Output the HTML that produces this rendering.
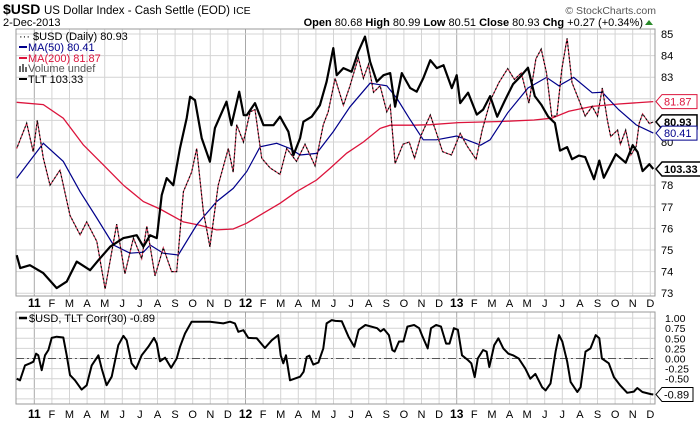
<!DOCTYPE html>
<html><head><meta charset="utf-8">
<style>
html,body{margin:0;padding:0;background:#fff;}
body{width:700px;height:421px;overflow:hidden;font-family:"Liberation Sans",Arial,sans-serif;}
svg text{font-family:"Liberation Sans",Arial,sans-serif;}
</style></head>
<body>
<svg id="chart" width="700" height="421" viewBox="0 0 700 421" xmlns="http://www.w3.org/2000/svg">
  <g>
    <text x="3" y="14" font-size="14" font-weight="bold" fill="#000">$USD</text>
    <text x="44" y="14" font-size="11.5" fill="#000">US Dollar Index - Cash Settle (EOD) <tspan font-size="10.5">ICE</tspan></text>
    <text x="3" y="26" font-size="11" fill="#000">2-Dec-2013</text>
    <text x="656" y="14" font-size="10.5" fill="#555" text-anchor="end">© StockCharts.com</text>
    <text x="643" y="26" font-size="11" fill="#000" text-anchor="end"><tspan font-weight="bold">Open</tspan> 80.68  <tspan font-weight="bold">High</tspan> 80.99  <tspan font-weight="bold">Low</tspan> 80.51  <tspan font-weight="bold">Close</tspan> 80.93  <tspan font-weight="bold">Chg</tspan> +0.27 (+0.34%)</text>
    <polygon points="645,25 653,25 649,20" fill="#2a8a2a"/>
  </g>
  <g id="grid"></g>
  <g id="series"></g>
  <g font-size="11">
    <text x="19" y="40" fill="#000">··· $USD (Daily) 80.93</text>
    <line x1="19" y1="47" x2="27" y2="47" stroke="#00008b" stroke-width="2"/>
    <text x="28" y="51" fill="#00008b">MA(50) 80.41</text>
    <line x1="19" y1="58" x2="27" y2="58" stroke="#dc143c" stroke-width="2"/>
    <text x="28" y="62" fill="#dc143c">MA(200) 81.87</text>
    <g fill="#666"><rect x="19" y="66" width="2" height="6"/><rect x="22" y="64" width="2" height="8"/><rect x="25" y="67" width="2" height="5"/></g>
    <text x="28" y="72" fill="#555">Volume undef</text>
    <line x1="19" y1="79" x2="27" y2="79" stroke="#000" stroke-width="2"/>
    <text x="28" y="83" fill="#000">TLT  103.33</text>
  </g>
  <g font-size="11">
    <line x1="19" y1="318" x2="27" y2="318" stroke="#000" stroke-width="2.5"/>
    <text x="29" y="322" fill="#000">$USD, TLT Corr(30) -0.89</text>
  </g>
</svg>
<script>
// ---- data (month index t: 0 = Jan 2011) ----
const usdT = [-1.0,-0.43,-0.06,0.17,0.51,0.89,1.46,2.03,2.6,2.98,3.55,4.02,4.68,5.15,5.63,6.1,6.39,6.86,7.33,7.8,8.09,8.47,8.94,9.23,9.6,9.98,10.45,11.02,11.3,11.5,11.88,12.26,12.54,12.92,13.4,13.96,14.34,14.9,15.38,15.95,16.42,16.7,17.09,17.56,17.94,18.41,18.7,18.99,19.27,19.65,20.03,20.22,20.5,20.95,21.3,21.6,21.97,22.5,22.9,23.2,23.7,24.0,24.2,24.6,25.1,25.45,25.93,26.4,26.9,27.28,27.67,28.1,28.5,28.8,29.1,29.4,29.69,29.98,30.27,30.55,30.94,31.3,31.7,32.0,32.27,32.56,32.75,33.14,33.3,33.6,33.9,34.2,34.37,34.56,34.95,35.17];
const usdV = [79.7,80.87,79.55,81.0,79.26,78.0,78.7,76.6,75.7,76.3,75.4,73.2,76.2,73.9,75.55,74.6,76.1,73.8,75.1,74.0,74.0,77.7,78.6,79.7,76.8,75.15,78.0,79.7,78.6,80.8,80.0,81.4,81.5,79.25,78.8,78.5,79.7,79.1,79.9,78.9,80.8,81.4,82.95,81.7,82.6,83.9,82.95,83.6,82.3,82.6,81.4,81.7,79.0,79.9,80.0,79.25,80.3,81.25,80.3,79.55,79.4,80.0,80.4,79.8,79.2,80.55,81.96,82.75,83.4,82.9,83.2,81.8,83.85,84.3,83.2,81.2,81.2,83.4,84.8,82.75,81.96,81.2,81.65,81.2,82.5,81.0,80.25,80.55,79.9,80.55,79.4,79.8,80.87,81.3,80.85,80.93];
const ma50T = [-1.0,0.51,1.65,2.6,3.55,4.5,5.44,6.2,6.58,7.33,8.18,9.23,10.36,11.3,12.07,12.83,13.77,14.53,15.1,16.04,16.99,17.94,19.08,20.03,20.6,21.3,22.1,22.85,24.0,25.36,25.9,26.9,28.05,29.1,29.8,30.65,31.7,32.27,33.2,34.2,35.17];
const ma50V = [78.32,79.94,79.1,77.7,76.48,75.23,74.85,74.9,75.23,74.85,74.77,76.16,77.24,77.85,78.63,79.78,79.94,79.7,79.4,79.47,80.48,81.63,82.72,82.6,82.02,81.1,80.1,80.1,80.28,79.85,80.1,81.35,82.5,82.99,82.6,82.99,82.28,82.3,81.5,80.79,80.41];
const ma200T = [-1.0,0.51,1.65,2.79,3.93,5.06,6.2,7.14,8.47,9.41,10.36,11.3,12.07,13.0,13.96,14.9,16.04,16.8,17.75,18.7,19.65,20.22,21.55,22.5,24.1,26.5,28.4,29.4,30.37,31.7,33.2,35.17];
const ma200V = [81.84,81.73,81.1,79.86,78.93,78.0,77.24,76.9,76.3,76.15,75.93,75.97,76.24,76.7,77.16,77.7,78.24,78.78,79.48,80.0,80.63,80.78,80.78,80.8,80.9,80.95,81.02,81.1,81.42,81.65,81.76,81.87];
const tltT = [-1.0,-0.8,-0.25,0.51,1.27,1.84,2.41,3.17,3.64,4.31,5.06,5.82,6.2,6.58,6.96,7.24,7.52,7.9,8.28,8.66,8.85,9.13,9.51,9.98,10.26,10.92,11.2,11.64,11.9,12.07,12.54,13.02,13.59,13.96,14.44,14.72,15.1,15.29,15.76,16.23,16.61,16.99,17.18,17.56,18.03,18.41,18.79,19.08,19.46,19.84,20.22,20.5,20.88,21.36,21.73,22.1,22.5,22.87,23.25,23.72,24.0,24.2,24.65,25.14,25.5,25.9,26.3,26.76,27.2,27.67,28.05,28.44,28.8,29.2,29.58,29.87,30.27,30.55,30.94,31.3,31.8,32.1,32.36,32.75,33.04,33.6,34.0,34.28,34.56,34.95,35.17];
const tltV = [86.1,83.5,84.1,82.5,79.5,80.8,84.8,83.1,85.1,87.8,89.5,90.1,87.8,90.1,89.5,98.1,101.5,100.1,107.5,113.5,117.8,117.1,109.5,104.8,111.5,116.8,112.1,118.8,114.1,114.1,116.5,112.1,112.1,113.8,110.8,106.1,109.5,112.8,113.8,116.1,120.8,127.5,122.1,123.5,122.8,126.8,129.8,124.8,120.8,122.1,122.5,115.8,122.5,119.5,118.8,121.5,125.1,123.5,124.1,119.5,122.1,116.5,118.6,114.2,115.2,117.9,113.8,117.2,120.3,122.0,123.6,117.9,116.2,113.8,112.5,107.0,107.7,105.3,106.0,105.7,101.3,105.0,101.6,104.3,106.3,104.6,108.1,106.7,102.9,104.3,103.33];
const corrT = [-1.0,-0.81,-0.53,-0.24,-0.05,0.1,0.23,0.42,0.61,0.8,0.99,1.27,1.65,1.84,2.03,2.31,2.69,2.98,3.26,3.64,3.83,4.11,4.4,4.77,5.06,5.25,5.53,5.78,6.1,6.48,6.8,6.96,7.14,7.43,7.77,8.09,8.28,8.56,8.94,9.98,10.74,11.12,11.4,11.59,11.88,12.16,12.64,13.1,13.49,13.86,14.0,14.15,14.3,14.53,15.1,15.3,15.48,15.63,15.85,16.14,16.42,16.61,16.9,17.1,17.47,17.85,18.18,18.43,18.81,19.48,19.67,19.86,20.15,20.34,20.47,20.72,20.97,21.2,21.58,21.87,22.06,22.35,22.54,22.83,23.11,23.4,23.59,23.84,24.07,24.3,24.64,24.83,25.02,25.2,25.5,25.7,25.85,26.13,26.37,26.65,26.94,27.2,27.52,27.9,28.18,28.47,28.85,29.05,29.33,29.62,29.81,30.0,30.28,30.47,30.85,31.04,31.32,31.6,31.9,32.1,32.25,32.64,32.93,33.3,33.69,34.07,34.26,34.55,35.03,35.17];
const corrV = [-0.5,-0.54,-0.17,-0.12,-0.08,0.12,0.08,-0.29,0.08,0.21,0.51,0.54,0.52,0.08,-0.41,-0.54,-0.77,-0.66,-0.17,0.08,-0.25,-0.66,-0.45,0.33,0.56,0.45,-0.12,-0.26,0.08,0.29,0.51,0.37,-0.07,0.02,-0.23,0.0,0.29,0.62,0.91,0.91,0.87,0.91,0.87,0.66,0.7,0.51,0.5,0.26,0.45,0.58,0.08,-0.12,0.08,-0.54,-0.45,-0.33,0.04,0.07,-0.15,-0.1,0.25,0.87,0.95,0.93,0.92,0.54,0.29,0.71,0.83,0.75,0.67,0.73,0.58,0.21,0.17,0.42,0.42,0.79,0.83,0.75,0.54,0.25,0.75,0.83,0.79,0.37,0.37,0.75,0.71,0.08,-0.04,-0.12,-0.46,0.0,0.21,0.17,-0.21,0.33,0.5,0.25,0.12,0.08,0.0,-0.25,-0.5,-0.38,-0.71,-0.79,-0.62,0.17,0.58,0.42,-0.08,-0.58,-0.83,-0.71,0.17,0.25,0.58,0.5,0.0,-0.12,-0.46,-0.67,-0.85,-0.82,-0.73,-0.83,-0.88,-0.89];
const monthLabels = ["11","F","M","A","M","J","J","A","S","O","N","D","12","F","M","A","M","J","J","A","S","O","N","D","13","F","M","A","M","J","J","A","S","O","N","D"];
const priceTicks = [85,84,83,82,81,80,79,78,77,76,75,74,73];
const priceTickLabels = ["85","84","83","","","80","","78","77","76","75","74","73"];
const corrTicks = [1,0.75,0.5,0.25,0,-0.25,-0.5,-0.75,-1];
const corrTickLabels = ["1.00","0.75","0.50","0.25","0.00","-0.25","-0.50","",""];
const lastUsd = 80.93, lastMa50 = 80.41, lastMa200 = 81.87, lastTlt = 103.33, lastCorr = -0.89;

// ---- scales ----
const L = 16, R = 655, PT = 29, PB = 296, CT = 312, CB = 404;
function xOf(t){ return 34.3 + 17.6 * t; }
function yUsd(v){ return 34 + (85 - v) * 21.6; }
function yTlt(v){ return 169 - (v - 103.33) * 5; }
function yCorr(v){ return 358.5 - v * 40.4; }

const NS = "http://www.w3.org/2000/svg";
function mk(tag, attrs, parent){
  const el = document.createElementNS(NS, tag);
  for (const k in attrs) el.setAttribute(k, attrs[k]);
  parent.appendChild(el);
  return el;
}
const grid = document.getElementById('grid');
const series = document.getElementById('series');

let el;
el = mk('rect', {x:L, y:PT, width:R-L, height:PB-PT, fill:'#fff', stroke:'none'}, grid);


el = mk('rect', {x:L, y:CT, width:R-L, height:CB-CT, fill:'#fff', stroke:'none'}, grid);



monthLabels.forEach((m, i) => {
  const x = xOf(i);
  const yr = /\d/.test(m);
  let g = mk('line', {x1:x, y1:PT, x2:x, y2:PB, stroke: yr ? '#a8a8a8' : '#d4d4d4', 'stroke-width':1}, grid);
  
  
  g = mk('line', {x1:x, y1:CT, x2:x, y2:CB, stroke: yr ? '#a8a8a8' : '#d4d4d4', 'stroke-width':1}, grid);
  
  
  [307, 418].forEach(yy => {
    const tx = mk('text', {x:x, y:yy, 'font-size': yr ? 12 : 11, 'font-weight': yr ? 'bold' : 'normal', 'text-anchor':'middle', fill:'#000'}, grid);
    tx.textContent = m;
    
    
  });
});

priceTicks.forEach((v, i) => {
  const y = yUsd(v);
  const g = mk('line', {x1:L, y1:y, x2:R, y2:y, stroke:'#d4d4d4', 'stroke-width':1}, grid);
  
  
  if (priceTickLabels[i]) {
    const tx = mk('text', {x:661, y:y+4, 'font-size':11, fill:'#000'}, grid);
    tx.textContent = priceTickLabels[i];
    
    
  }
});
corrTicks.forEach((v, i) => {
  const y = yCorr(v);
  const g = mk('line', {x1:L, y1:y, x2:R, y2:y, stroke:'#d4d4d4', 'stroke-width':1}, grid);
  
  
  if (corrTickLabels[i]) {
    const tx = mk('text', {x:665, y:y+4, 'font-size':10.5, fill:'#000'}, grid);
    tx.textContent = corrTickLabels[i];
    
    
  }
});
el = mk('line', {x1:L, y1:yCorr(0), x2:R, y2:yCorr(0), stroke:'#555', 'stroke-width':1, 'stroke-dasharray':'8,3,2,3'}, grid);



el = mk('rect', {x:L, y:PT, width:R-L, height:PB-PT, fill:'none', stroke:'#999', 'stroke-width':1}, grid);


el = mk('rect', {x:L, y:CT, width:R-L, height:CB-CT, fill:'none', stroke:'#999', 'stroke-width':1}, grid);



function pathD(ts, vs, yf){
  return ts.map((t, i) => (i ? 'L' : 'M') + xOf(t).toFixed(1) + ',' + yf(vs[i]).toFixed(1)).join(' ');
}
el = mk('path', {d:pathD(ma200T, ma200V, yUsd), fill:'none', stroke:'#dc143c', 'stroke-width':1.3}, series);


el = mk('path', {d:pathD(ma50T, ma50V, yUsd), fill:'none', stroke:'#00008b', 'stroke-width':1.2}, series);


el = mk('path', {d:pathD(usdT, usdV, yUsd), fill:'none', stroke:'#d03050', 'stroke-width':1.2, 'stroke-dasharray':'2,2'}, series);


el = mk('path', {d:pathD(usdT, usdV, yUsd), fill:'none', stroke:'#000', 'stroke-width':1.2, 'stroke-dasharray':'2,2', 'stroke-dashoffset':2}, series);


el = mk('path', {d:pathD(tltT, tltV, yTlt), fill:'none', stroke:'#000', 'stroke-width':2.2, 'stroke-linejoin':'round'}, series);


el = mk('path', {d:pathD(corrT, corrV, yCorr), fill:'none', stroke:'#000', 'stroke-width':2, 'stroke-linejoin':'round'}, series);



function tag(y, label, color, bold, w, name){
  const g = mk('g', {}, series);
  
  
  mk('path', {d:`M${R+1},${y} L${R+7},${y-7} L${R+7+w},${y-7} L${R+7+w},${y+7} L${R+7},${y+7} Z`, fill:'#fff', stroke:color, 'stroke-width': bold ? 1.5 : 1}, g);
  const tx = mk('text', {x:R+9, y:y+4, 'font-size':11, 'font-weight': bold ? 'bold' : 'normal', fill:color}, g);
  tx.textContent = label;
}
tag(yUsd(lastMa200), lastMa200.toFixed(2), '#dc143c', false, 35, 'ma200-value-tag');
tag(yUsd(lastUsd), lastUsd.toFixed(2), '#000', true, 35, 'usd-value-tag');
tag(yUsd(lastMa50), lastMa50.toFixed(2), '#00008b', false, 35, 'ma50-value-tag');
tag(yTlt(lastTlt), lastTlt.toFixed(2), '#000', true, 41, 'tlt-value-tag');
tag(yCorr(lastCorr), lastCorr.toFixed(2), '#000', false, 31, 'corr-value-tag');
</script>
</body></html>
